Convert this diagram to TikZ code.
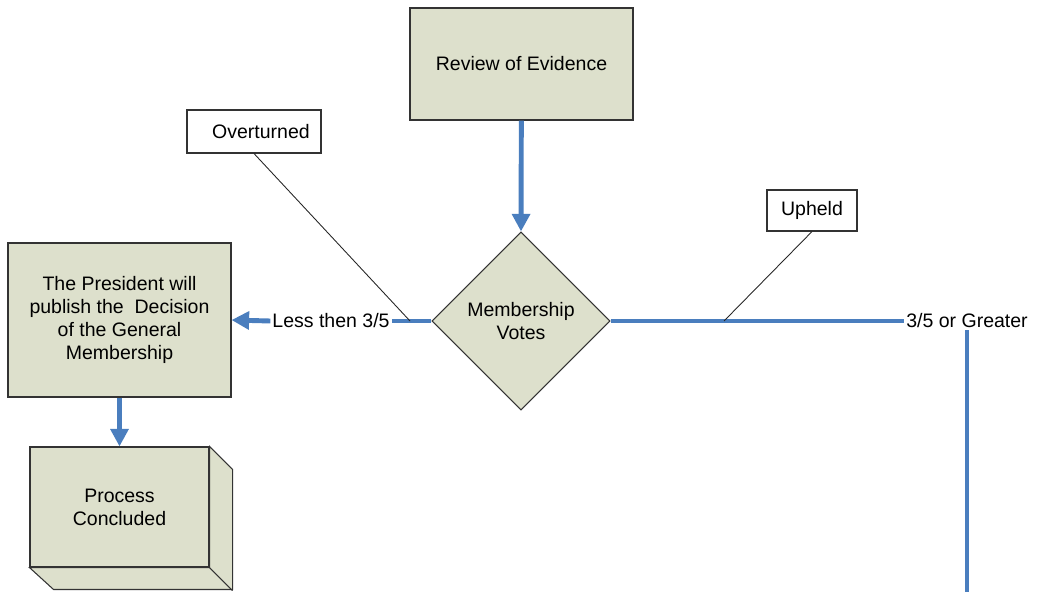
\documentclass[tikz,border=0pt]{standalone}
\usepackage{fontspec}
\setmainfont{Liberation Sans}
\usetikzlibrary{shapes.geometric,arrows.meta}
\definecolor{boxfill}{RGB}{221,224,204}
\definecolor{flowblue}{RGB}{74,126,190}
\def\pxu{0.02cm}
\tikzset{
	stepbox/.style={draw=black!80, line width=0.6pt, fill=boxfill, align=center, inner sep=0pt},
	notebox/.style={draw=black!80, line width=0.6pt, fill=white, inner sep=0pt},
	flow/.style={draw=flowblue, line width=2.8pt},
	flowarrow/.style={flow, -{Triangle[length=10pt,width=10pt]}},
	callout/.style={draw=black!85, line width=0.5pt},
}

\begin{document}
\begin{tikzpicture}[x=\pxu, y=-\pxu, font=\fontsize{11.1}{13}\selectfont]
				\useasboundingbox (0,0) rectangle (1037,592);
				
				\node[stepbox, minimum width=223*\pxu, minimum height=112*\pxu] (review) at (521.5,64) {Review of Evidence};
				\node[stepbox, shape=diamond, minimum width=178*\pxu, minimum height=178*\pxu] (votes) at (521,321) {Membership\\Votes};
				\node[stepbox, minimum width=223*\pxu, minimum height=154*\pxu] (president) at (119.5,320) {The President will\\publish the~ Decision\\of the General\\Membership};
				\node[stepbox, minimum width=179*\pxu, minimum height=120*\pxu] (done) at (119.5,507) {Process\\Concluded};
				\draw[draw=black!80, line width=0.6pt, fill=boxfill] (done.north east) -- ++(23,23) -- ++(0,120) -- ++(-179,0) -- (done.south west) -- (done.south east) -- cycle;
				\draw[draw=black!80, line width=0.6pt] (done.south east) -- ++(23,23);
				
				\node[notebox, minimum width=134*\pxu, minimum height=43*\pxu] (overturned) at (254,131.5) {\hspace*{0.28cm}Overturned};
				\node[notebox, minimum width=90*\pxu, minimum height=41*\pxu] (upheld) at (812,210.5) {Upheld};
				\node[inner sep=1pt] (less) at (331,321) {Less then 3/5};
				\node[inner sep=1pt] (greater) at (967,321) {3/5 or Greater};
				\coordinate (overfoot) at (410,321);
				\coordinate (upfoot) at (724,321);
				\coordinate (bottomend) at (967,592);
				
				\draw[flowarrow] (review) -- (votes.north);
				\draw[flow] (votes.west) -- (less.east);
				\draw[flowarrow] (less.west) -- (president.east);
				\draw[flowarrow] (president) -- (done.north);
				\draw[flow] (votes.east) -- (greater.west);
				\draw[flow] (greater.south) -- (bottomend);
				
				\draw[callout] (overturned.south) -- (overfoot);
				\draw[callout] (upheld.south) -- (upfoot);
			\end{tikzpicture}
\end{document}
